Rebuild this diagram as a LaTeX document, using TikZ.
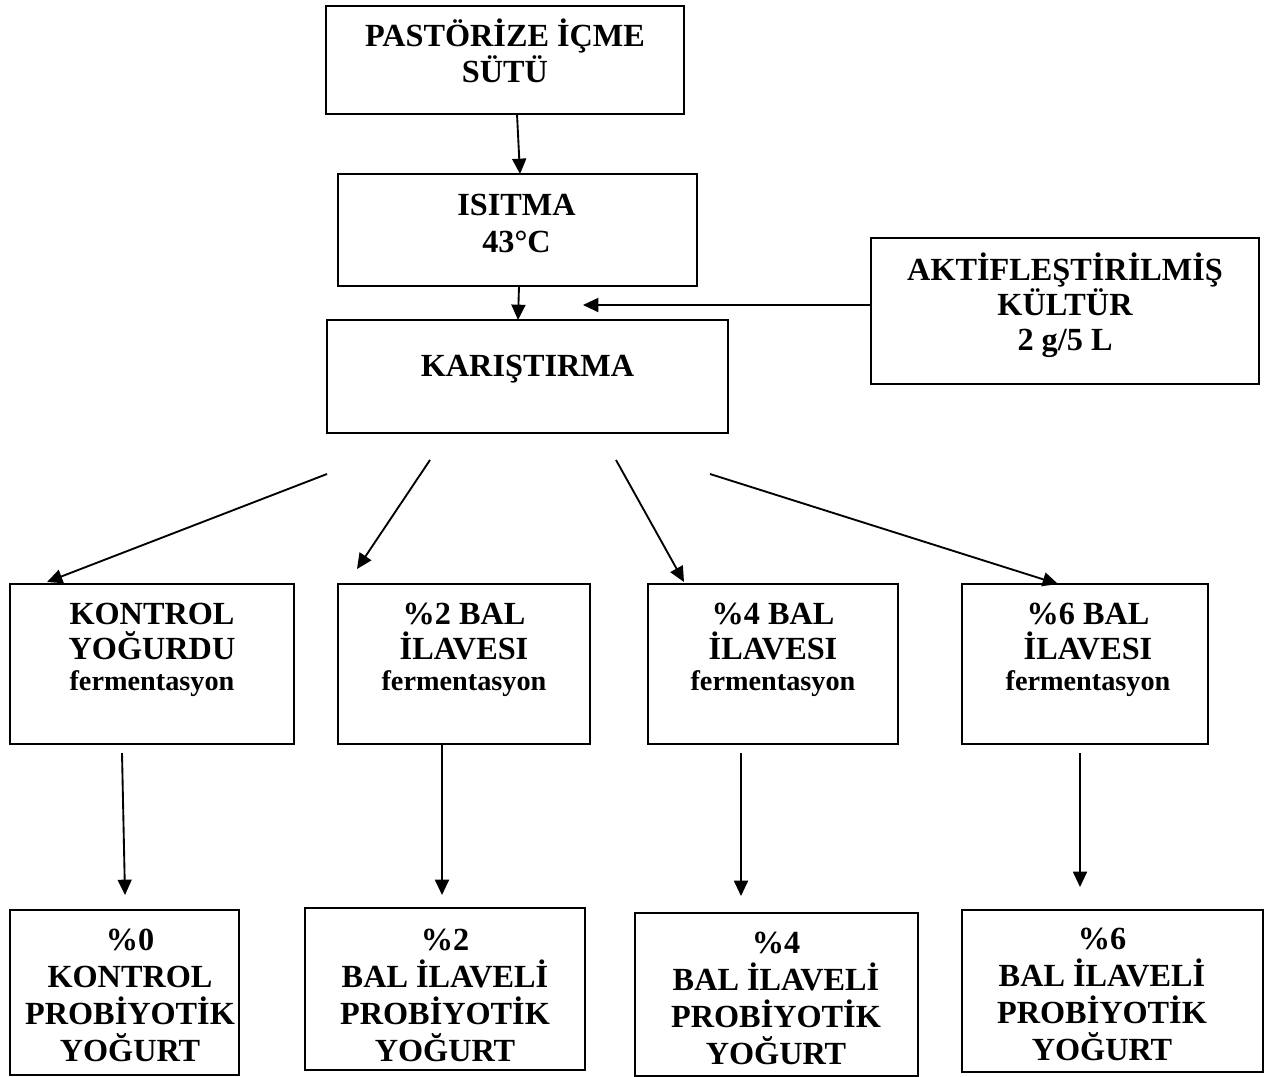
\documentclass[tikz,border=0pt]{standalone}
\usepackage{fontspec}
\setmainfont{Liberation Serif}
\usetikzlibrary{arrows.meta,calc}
\tikzset{
  box/.style={draw, line width=1.4pt, inner sep=0pt, outer sep=0pt, rectangle},
  lbl/.style={anchor=base, inner sep=0pt, font=\fontsize{24.2}{27}\selectfont\bfseries},
  sml/.style={anchor=base, inner sep=0pt, font=\fontsize{21.2}{24}\selectfont\bfseries},
  arr/.style={line width=1.4pt, -{Triangle[length=11.5pt,width=10.5pt]}}
}
\newcommand\bx[5]{\node[box, minimum width={(#4-#2)*0.75pt}, minimum height={(#5-#3)*0.75pt}] (#1) at ({(#2+#4)/2},{(#3+#5)/2}) {};}
\newcommand\txt[5]{\foreach \l [count=\i] in {#5} {\node[lbl] (#1\i) at (#2,{#3+#4*(\i-1)}) {\l};}}
\begin{document}
\begin{tikzpicture}[x=0.75pt,y=-0.75pt]
\useasboundingbox (0,0) rectangle (1277,1077);
% boxes
\bx{milk}{326}{6}{684}{114}
\bx{heat}{338}{174}{697}{286}
\bx{mix}{327}{320}{728}{433}
\bx{cult}{871}{238}{1259}{384}
\bx{fa}{10}{584}{294}{744}
\bx{fb}{338}{584}{590}{744}
\bx{fc}{648}{584}{898}{744}
\bx{fd}{962}{584}{1208}{744}
\bx{pa}{10}{910}{239}{1075}
\bx{pb}{305}{908}{585}{1070}
\bx{pc}{635}{913}{918}{1076}
\bx{pd}{962}{910}{1263}{1072}
% texts
\txt{milkt}{505}{47}{36}{PASTÖRİZE İÇME, SÜTÜ}
\txt{heatt}{516.5}{215}{37}{ISITMA, 43°C}
\txt{mixt}{527.5}{376}{36}{KARIŞTIRMA}
\txt{cultt}{1065}{280}{35}{AKTİFLEŞTİRİLMİŞ, KÜLTÜR, 2 g/5 L}
\txt{fat}{152}{624}{35}{KONTROL, YOĞURDU}
\txt{fbt}{464}{624}{35}{\%2 BAL, İLAVESI}
\txt{fct}{773}{624}{35}{\%4 BAL, İLAVESI}
\txt{fdt}{1088}{624}{35}{\%6 BAL, İLAVESI}
\node[sml] (fas) at (152,690) {fermentasyon};
\node[sml] (fbs) at (464,690) {fermentasyon};
\node[sml] (fcs) at (773,690) {fermentasyon};
\node[sml] (fds) at (1088,690) {fermentasyon};
\txt{pat}{130}{950}{37}{\%0, KONTROL, PROBİYOTİK, YOĞURT}
\txt{pbt}{445}{950}{37}{\%2, BAL İLAVELİ, PROBİYOTİK, YOĞURT}
\txt{pct}{776}{953}{37}{\%4, BAL İLAVELİ, PROBİYOTİK, YOĞURT}
\txt{pdt}{1102}{949}{37}{\%6, BAL İLAVELİ, PROBİYOTİK, YOĞURT}
% connectors
\draw[arr] ($(milk.south)+(12,0)$) -- ($(heat.north)+(2.5,0)$);
\draw[arr] ($(heat.south)+(1.5,0)$) -- ($(mix.north)+(-9.5,0)$);
\coordinate (join) at (583,305);
\draw[arr] (cult.west |- join) -- (join);
\draw[arr] ($(mix.south)+(-200.5,41)$) -- ($(fa.north)+(-105,-2)$);
\draw[arr] ($(mix.south)+(-97.5,27)$) -- ($(fb.north)+(-107,-15)$);
\draw[arr] ($(mix.south)+(88.5,27)$) -- ($(fc.north)+(-89,-2)$);
\draw[arr] ($(mix.south)+(182.5,41)$) -- ($(fd.north)+(-27,0)$);
\draw[arr] ($(fa.south)+(-30,9)$) -- ($(pa.north)+(0.5,-15)$);
\draw[arr] ($(fb.south)+(-22,0)$) -- ($(pb.north)+(-3,-13)$);
\draw[arr] ($(fc.south)+(-32,9)$) -- ($(pc.north)+(-35.5,-17)$);
\draw[arr] ($(fd.south)+(-5,9)$) -- ($(pd.north)+(-32.5,-23)$);
\end{tikzpicture}
\end{document}
